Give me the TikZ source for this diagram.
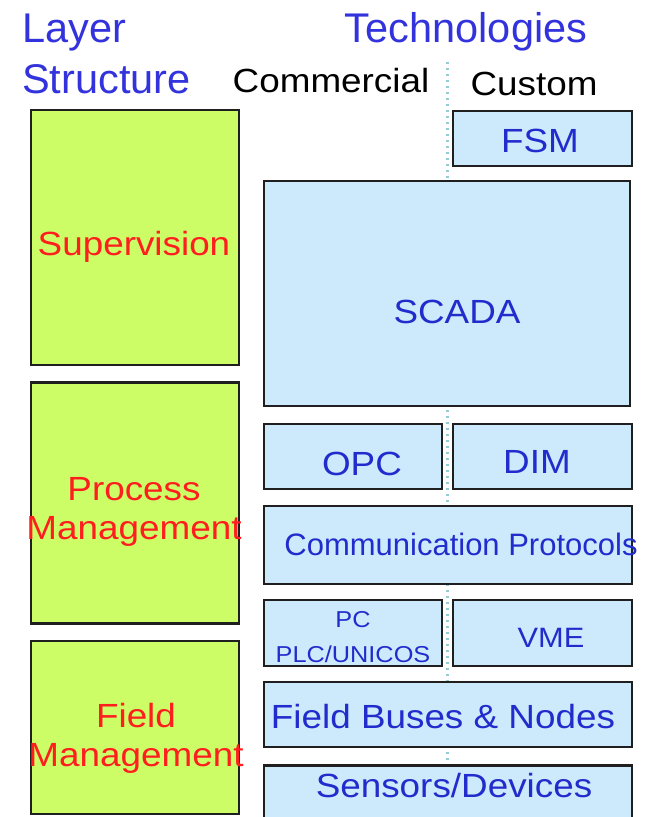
\documentclass[tikz,border=0pt]{standalone}
\usepackage{fontspec}
\setmainfont{Liberation Sans}
\newfontfamily\widesans[FakeStretch=1.1]{Liberation Sans}
\usepackage{tikz}

\definecolor{layergreen}{RGB}{204,252,102}
\definecolor{techblue}{RGB}{204,234,252}
\definecolor{titleblue}{RGB}{51,51,221}
\definecolor{labelblue}{RGB}{34,44,204}
\definecolor{layerred}{RGB}{255,30,30}
\definecolor{divcolor}{RGB}{150,205,210}

\begin{document}
\begin{tikzpicture}[x=1pt,y=-1pt,
    layerbox/.style={draw=black!88,line width=2.7pt,fill=layergreen,inner sep=0pt,minimum width=208pt},
    techbox/.style={draw=black!88,line width=2.7pt,fill=techblue,inner sep=0pt},
    title/.style={text=titleblue,font=\fontsize{41.5}{44}\selectfont,inner sep=0pt},
    column/.style={text=black,font=\widesans\fontsize{33.5}{36}\selectfont,inner sep=0pt,anchor=base},
    layertext/.style={text=layerred,font=\widesans\fontsize{33.5}{39}\selectfont,align=center,inner sep=0pt},
    techtext/.style={text=labelblue,font=\widesans\fontsize{33.5}{36}\selectfont,align=center,inner sep=0pt,anchor=base},
    divider/.style={divcolor,line width=3pt,dash pattern=on 2pt off 4pt}]
      \useasboundingbox (0,0) rectangle (650,817);
      \clip (0,0) rectangle (650,817);
      % Headings
      \node[title,anchor=base west] (layer) at (22,42) {Layer};
      \node[title,anchor=base west] (structure) at (22,93) {Structure};
      \node[title,anchor=base] (techs) at (466,42) {Technologies};
      \node[column] (commercial) at (331,92) {Commercial};
      \node[column] (custom) at (534,95) {Custom};
      % Commercial / Custom split
      \coordinate (splittop) at (447,62);
      \coordinate (splitbot) at (447,817);
      \draw[divider] (splittop) -- (splitbot);
      % Layers
      \node[layerbox,minimum height=255pt] (sup) at (135,237.5) {};
      \node[layertext,anchor=base] (suptext) at (134,255) {Supervision};
      \node[layerbox,minimum height=241pt] (proc) at (135,503) {};
      \node[layertext] (proctext) at (134,512) {Process\\Management};
      \node[layerbox,minimum height=173pt] (field) at (135,727.5) {};
      \node[layertext] (fieldtext) at (136,738) {Field\\Management};
      % Supervision technologies
      \node[techbox,minimum width=179pt,minimum height=55pt] (fsm) at (542.5,138.5) {};
      \node[techtext] (fsmtext) at (540,152) {FSM};
      \node[techbox,minimum width=366pt,minimum height=225pt] (scada) at (447,293.5) {};
      \node[techtext] (scadatext) at (457,323) {SCADA};
      % Process technologies
      \node[techbox,minimum width=178pt,minimum height=65pt] (opc) at (353,456.5) {};
      \node[techtext] (opctext) at (362,475) {OPC};
      \node[techbox,minimum width=179pt,minimum height=65pt] (dim) at (542.5,456.5) {};
      \node[techtext] (dimtext) at (537,473) {DIM};
      \node[techbox,minimum width=368pt,minimum height=78pt] (comm) at (448,545) {};
      \node[techtext,font=\fontsize{31}{34}\selectfont] (commtext) at (461,555) {Communication Protocols};
      \node[techbox,minimum width=178pt,minimum height=66pt] (pc) at (353,633) {};
      \node[techtext,font=\widesans\fontsize{23}{35}\selectfont,anchor=center] (pctext) at (353,637) {PC\\PLC/UNICOS};
      \node[techbox,minimum width=179pt,minimum height=66pt] (vme) at (542.5,633) {};
      \node[techtext,font=\widesans\fontsize{28}{32}\selectfont] (vmetext) at (551,647) {VME};
      % Field technologies
      \node[techbox,minimum width=368pt,minimum height=65pt] (buses) at (448,714.5) {};
      \node[techtext] (busestext) at (443,728) {Field Buses \& Nodes};
      \node[techbox,minimum width=368pt,minimum height=75pt] (sensors) at (448,803) {};
      \node[techtext] (sensorstext) at (454,797) {Sensors/Devices};
    \end{tikzpicture}
\end{document}
